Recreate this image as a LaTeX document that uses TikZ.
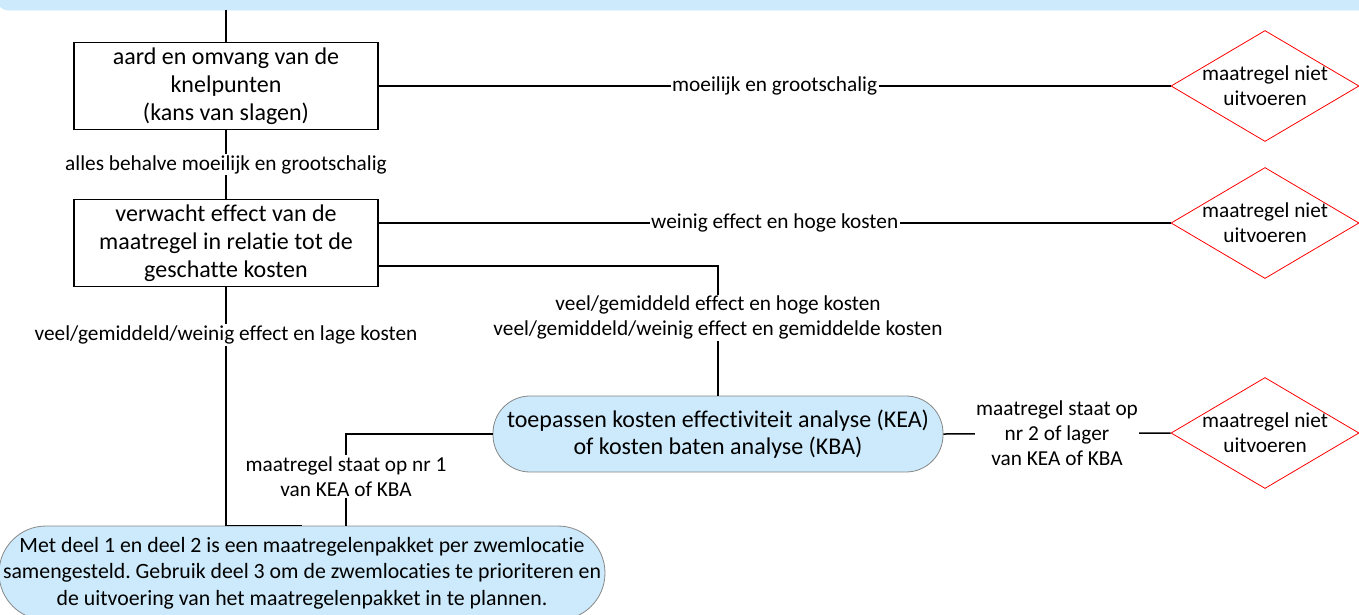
\documentclass[tikz,border=0pt]{standalone}
\usepackage{fontspec}
\setmainfont{Carlito}[Ligatures=NoCommon]
\frenchspacing
\usetikzlibrary{positioning}
\usetikzlibrary{shapes.geometric}
\definecolor{lichtblauw}{RGB}{204,234,251}
\definecolor{randgrijs}{RGB}{135,135,135}
\tikzset{
	every node/.style = {font=\fontsize{21.3}{25}\selectfont, align=center},
	lijn/.style = {line width=1.5pt, black},
	lbl/.style = {fill=white, inner sep=1.5pt},
	vraag/.style = {draw, line width=1.5pt, minimum width=304pt, minimum height=87pt, inner sep=0pt, font=\fontsize{24}{28}\selectfont},
	stop/.style = {diamond, draw=red, line width=0.8pt, aspect=1.7, minimum width=188pt, minimum height=111pt, inner sep=-10pt},
	blauw/.style = {draw=randgrijs, fill=lichtblauw, line width=0.8pt, inner sep=0pt}
}

\begin{document}
\begin{tikzpicture}[x=1pt, y=-1pt]
		\clip (0,0) rectangle (1359,614);
		% vorige stap (afgesneden)
		\node[blauw, draw=lichtblauw, rounded corners=10pt, minimum width=1400pt, minimum height=100pt] (start) at (698,-40) {};
		% vragen
		\node[vraag] (kans) at (226,86) {aard en omvang van de\\knelpunten\\(kans van slagen)};
		\node[vraag] (effect) at (226,243) {verwacht effect van de\\maatregel in relatie tot de\\geschatte kosten};
		% niet uitvoeren
		\foreach \n/\y in {1/86, 2/223, 3/433}
			\node[stop] (stop\n) at (1265,\y) {maatregel niet\\uitvoeren};
		\node[blauw, rounded corners=37pt, minimum width=450pt, minimum height=76pt, font=\fontsize{24}{27}\selectfont] (kea) at (718,434) {toepassen kosten effectiviteit analyse (KEA)\\of kosten baten analyse (KBA)};
		\node[blauw, rounded corners=47pt, minimum width=606pt, minimum height=94pt, font=\fontsize{21.8}{26.5}\selectfont] (final) at (302,573) {Met deel 1 en deel 2 is een maatregelenpakket per zwemlocatie\\samengesteld. Gebruik deel 3 om de zwemlocaties te prioriteren en\\de uitvoering van het maatregelenpakket in te plannen.};
		\coordinate (nr1) at (346,526);
		
		\draw[lijn] (start.south -| kans) -- (kans);
		\draw[lijn] (kans.east) -- node[lbl] {moeilijk en grootschalig} (stop1.west);
		\draw[lijn] (kans) -- node[lbl] {alles behalve moeilijk en grootschalig} (effect);
		\draw[lijn] (effect.east |- stop2.west) -- node[lbl] {weinig effect en hoge kosten} (stop2.west);
		\draw[lijn] ([yshift=-23pt]effect.east) -| node[lbl, pos=0.7] {veel/gemiddeld effect en hoge kosten\\veel/gemiddeld/weinig effect en gemiddelde kosten} (kea.north);
		\draw[lijn] (effect) |- node[lbl, pos=0.1] {veel/gemiddeld/weinig effect en lage kosten} (final.north);
		\draw[lijn] (kea.west) -| node[lbl, pos=0.73] {maatregel staat op nr 1\\van KEA of KBA} (nr1);
		\draw[lijn] (kea.east) -- node[lbl] {maatregel staat op\\nr 2 of lager\\van KEA of KBA} (stop3.west);
	\end{tikzpicture}
\end{document}
